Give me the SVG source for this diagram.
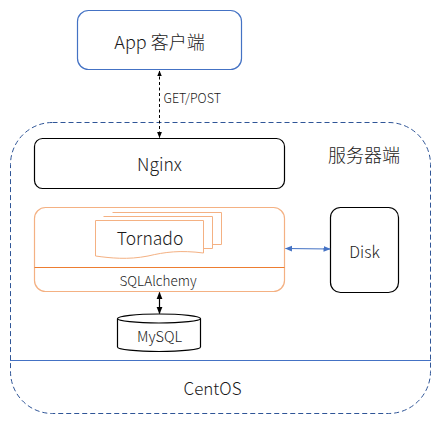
<svg xmlns="http://www.w3.org/2000/svg" width="442" height="426" viewBox="0 0 442 426">
<style>
text{font-family:"Noto Sans CJK SC","Noto Sans",sans-serif;font-weight:300;fill:#1a1a1a;text-anchor:middle;dominant-baseline:central}
.box{fill:#fff;stroke:#000;stroke-width:1.2}
.doc{fill:#fff;stroke:#f4b183;stroke-width:1}
</style>
<defs>
<marker id="ah" viewBox="0 0 10 10" refX="9" refY="5" markerWidth="6" markerHeight="6" orient="auto-start-reverse"><path d="M0,1 L10,5 L0,9 z" fill="#000"/></marker>
<marker id="ahb" viewBox="0 0 10 10" refX="9" refY="5" markerWidth="6" markerHeight="6" orient="auto-start-reverse"><path d="M0,1 L10,5 L0,9 z" fill="#4472c4"/></marker>
</defs>
<g id="server">
<rect x="10.5" y="122.5" width="420" height="291" rx="42" fill="none" stroke="#2f5597" stroke-dasharray="5,3" stroke-width="1"/>
<line x1="10" y1="360.5" x2="431" y2="360.5" stroke="#4472c4" stroke-width="1.2"/>
<text x="364" y="154" font-size="18">服务器端</text>
<text x="212.5" y="387" font-size="17">CentOS</text>
</g>
<g id="app">
<rect x="77.5" y="10.5" width="164" height="59" rx="11" fill="#fff" stroke="#4472c4" stroke-width="1.2"/>
<text x="159.5" y="41" font-size="18">App 客户端</text>
</g>
<g id="nginx">
<rect class="box" x="34.5" y="138.5" width="250" height="50" rx="8"/>
<text x="159.5" y="163.5" font-size="17.5">Nginx</text>
</g>
<g id="tornado-app">
<rect x="34.5" y="207.5" width="250" height="84" rx="11" fill="#fff" stroke="#f4b183" stroke-width="1.2"/>
<line x1="34.5" y1="267.5" x2="284.5" y2="267.5" stroke="#ed7d31" stroke-width="1.2"/>
<text x="158" y="280" font-size="13.5">SQLAlchemy</text>
</g>
<g id="tornado">
<path class="doc" d="M112.5,212.5 H221.5 V244.5 H212.5"/>
<path class="doc" d="M103.5,216.5 H212.5 V248.5 H203.5"/>
<path class="doc" d="M95.5,220.5 H203.5 V253 C180,250 165,252 148,256 C128,260 110,258 95.5,256 Z"/>
<text x="150" y="237.5" font-size="17.5">Tornado</text>
</g>
<g id="disk">
<rect class="box" x="330.5" y="207.5" width="68" height="85" rx="10"/>
<text x="364.5" y="251" font-size="16">Disk</text>
</g>
<g id="mysql">
<path class="box" d="M117.5,318.5 V347 A41.5,4.5 0 0 0 200.5,347 V318.5"/>
<ellipse class="box" cx="159" cy="318.5" rx="41.5" ry="4.5"/>
<text x="159.5" y="335" font-size="14.5">MySQL</text>
</g>
<g id="connectors">
<line x1="159.5" y1="71" x2="159.5" y2="137.5" stroke="#000" stroke-dasharray="3,2.5" stroke-width="1" marker-start="url(#ah)" marker-end="url(#ah)"/>
<text x="163.5" y="97" font-size="12.5" style="text-anchor:start">GET/POST</text>
<line x1="285.5" y1="248.5" x2="330" y2="249" stroke="#4472c4" stroke-width="1.2" marker-start="url(#ahb)" marker-end="url(#ahb)"/>
<line x1="159.5" y1="292.5" x2="159.5" y2="313.5" stroke="#000" stroke-width="1.2" marker-start="url(#ah)" marker-end="url(#ah)"/>
</g>
</svg>
